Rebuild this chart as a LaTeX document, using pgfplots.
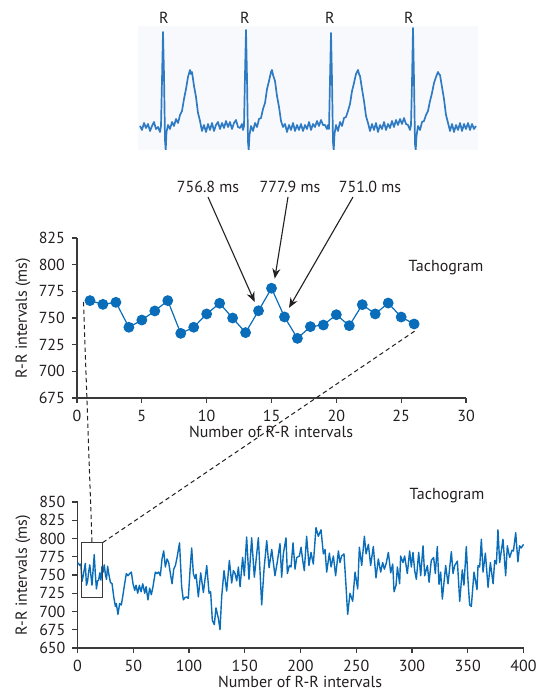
\documentclass[border=0pt]{standalone}
\usepackage{fontspec}
\setmainfont{PT Sans}
\usepackage{pgfplots}
\pgfplotsset{compat=1.18}
\usetikzlibrary{arrows.meta}
\definecolor{txt}{HTML}{231F20}
\definecolor{axc}{HTML}{3A3A3A}
\definecolor{dot}{HTML}{0A6DB9}
\definecolor{ecg}{HTML}{2E7BC4}
\definecolor{panel}{HTML}{F8F9FC}
\newcommand{\fs}{\fontsize{8}{9.6}\selectfont}

\pgfplotsset{
  tacho/.style={
    scale only axis, anchor=south west, clip=false,
    axis lines*=left, tick align=outside, major tick length=2.5pt,
    axis line style={line width=0.6pt, draw=axc},
    every tick/.style={line width=0.6pt, draw=axc},
    tick label style={font=\fs, text=txt},
    /pgf/number format/assume math mode=true,
  },
}

\begin{document}
\begin{tikzpicture}
\useasboundingbox (0,0) rectangle (269.5pt,-344.5pt);

% ECG strip
\begin{axis}[at={(69pt,-75pt)}, anchor=south west, scale only axis,
  width=170pt, height=62pt, xmin=138, xmax=478, ymin=0, ymax=124,
  axis line style={draw=none}, xtick=\empty, ytick=\empty,
  axis background/.style={fill=panel}]
\addplot[ecg, line width=0.85pt, line join=round] coordinates {
(140,24)(142,20)(144,27)(146,22)(148,26)(150,19)(152,24)(154,28)(156,21)
(158,23)(160,18)(161,24)(162,70)(163,118)(164,75)(165,10)(165.7,0)(166.5,18)(168,25)
(170,21)(172,28)(174,24)(176,31)(178,27)(180,35)(182,39)(184,51)(186,61)(188,73)
(190,80)(191,76)(192,78)(194,64)(196,53)(198,37)(200,29)(202,19)
(204,25)(206,18)(208,26)(210,20)(212,27)(214,19)(216,25)(218,28)(220,21)(222,27)
(224,22)(226,29)(228,23)(230,28)(232,21)(234,27)(236,30)(238,23)(240,22)(242,26)
(243,20)(244,24)(245,75)(246,120)(247,72)(248,8)(248.7,0)(249.5,15)(251,24)
(253,19)(255,27)(257,23)(259,31)(261,32)(263,41)(265,47)(267,61)(269,69)(271,78)
(272,80)(273,75)(275,69)(277,54)(279,43)(281,29)(283,23)(285,26)(287,18)(289,25)
(291,20)(293,27)(295,19)(297,25)(299,20)(301,26)(303,19)(305,25)(307,21)(309,28)
(311,20)(313,26)(315,23)(317,29)(319,24)(321,30)(323,25)(325,25)(327,21)(328,25)
(329,21)(330,70)(331,117)(332,70)(333,8)(333.7,0)(334.5,16)(336,25)(338,19)(340,28)
(342,24)(344,32)(346,33)(348,39)(350,46)(352,59)(354,67)(356,76)(358,80)(359,76)
(360,74)(362,61)(364,49)(366,34)(368,27)(370,19)(372,26)(374,20)(376,27)(378,18)
(380,25)(382,21)(384,28)(386,20)(388,26)(390,22)(392,29)(394,23)(396,30)(398,25)
(400,31)(402,26)(404,32)(406,26)(408,25)(410,20)(411,25)
(412,68)(413,122)(414,70)(415,6)(415.7,0)(416.5,14)(418,24)(420,20)(422,28)(424,29)
(426,35)(428,39)(430,49)(432,57)(434,67)(436,73)(438,78)(439,76)(440,75)(442,63)
(444,51)(446,35)(448,27)(450,19)(452,26)(454,18)(456,25)(458,20)(460,27)(462,19)
(464,26)(466,21)(468,27)(470,20)(472,26)(474,21)(476,24)
};
\end{axis}

% short tachogram
\begin{axis}[tacho, at={(38.5pt,-199pt)}, width=194.5pt, height=80pt,
  xmin=0, xmax=30, ymin=675, ymax=825,
  xtick={0,5,...,30}, ytick={675,700,...,825}]
\addplot[dot, line width=0.6pt, mark=*, mark size=2.4pt,
  mark options={fill=dot, draw=dot}] coordinates {
(1,766.3)(2,762.8)(3,764.7)(4,741.3)(5,748.1)(6,756.6)(7,766.3)(8,735.6)
(9,741.3)(10,753.8)(11,763.8)(12,750.0)(13,736.3)(14,756.8)(15,777.9)(16,751.0)
(17,730.9)(18,741.9)(19,743.4)(20,753.1)(21,742.8)(22,762.5)(23,753.8)(24,764.0)
(25,750.9)(26,744.4)
};
\coordinate (a1) at (axis cs:13.7,765);
\coordinate (a2) at (axis cs:15.25,787);
\coordinate (a3) at (axis cs:16.35,759.5);
\coordinate (d1) at (axis cs:0.5,765);
\coordinate (d2) at (axis cs:26.2,739);
\end{axis}

% long tachogram
\begin{axis}[tacho, at={(38.75pt,-324pt)}, width=223pt, height=73pt,
  xmin=0, xmax=400, ymin=650, ymax=850,
  xtick={0,50,...,400}, ytick={650,675,...,850}]
\addplot[dot, line width=0.7pt, line join=round] coordinates {
(0,765)(1,766)(2,763)(3,765)(4,741)(5,748)(6,757)(7,766)(8,736)(9,741)(10,754)
(11,764)(12,750)(13,736)(14,757)(15,778)(16,751)(17,731)(18,742)(19,743)(20,753)
(21,743)(22,762)(23,754)(24,764)(25,751)(26,744)
(27,762)(28,752)(29.5,740)(31,738)(32.5,720)(34,707)(34.8,711)(36.3,696)(37.8,711)
(39.3,709)(40.5,720)(42.3,738)(43.8,752)(45.3,749)(46.8,752)(48.3,754)(49.8,738)
(51.3,729)(52.5,736)(54,725)(55.5,736)(57,727)(58.5,738)(60.3,725)(61.5,734)
(63.2,716)(64.7,732)(66.2,723)(67.7,734)(69.8,754)(71.3,752)(72.8,754)(74.3,749)
(75.8,772)(77.3,783)(78.8,761)(80.3,772)(81.8,767)(83.3,752)(84.8,738)(86.3,758)
(87.8,763)(89.3,774)(91.5,794)
(93.4,734)(94.9,716)(96.4,719)(97.9,720)(99.4,718)(100.9,756)(102.4,787)(103.9,752)
(105.4,745)(106.3,751)(108.4,720)(110.5,753)(112.9,726)(115.9,763)(118,725)
(119.4,727)(120.9,688)(122.7,682)(124.2,705)(126.3,691)(127.8,675)(129.3,720)
(131.4,756)(133.8,728)(136.2,770)(138.3,739)(139.8,756)(141.3,752)(142.8,742)
(144.3,761)(145.8,734)(148.1,774)(149.6,749)(151.7,802)(153.8,744)(156.2,801)
(158.6,747)(162.2,801)(165.2,709)(167.3,758)(169.7,797)(171.8,760)(174.2,785)
(177.1,749)(179.2,768)(181.6,793)(183.1,747)(184.6,779)(187,801)(188.2,752)
(190,763)(191.5,761)(193.3,794)(195.1,758)(196.6,774)(199,776)(200.5,788)(202,770)
(203.4,756)(205.5,803)(207.6,763)(209.4,781)(211.5,765)(213.9,815)(216,803)
(218.4,812)(220.5,779)(222,785)(223.5,754)(225.9,780)(227.4,761)(229.5,776)
(231.5,749)(234,783)(235.4,767)(236.9,776)(239,779)(240.5,743)(242.3,696)
(244.4,725)(246.8,714)(248.9,754)(251.3,731)(252.8,788)(254.9,763)(257.3,803)
(258.8,779)(260.9,792)(262.9,763)(265.3,789)(267.7,746)(269.8,772)(271.9,754)
(273.7,767)(275.2,758)(276.7,765)(278.8,781)(280.9,753)(282.7,765)(283.9,727)
(285.7,736)(286.9,761)(288.9,738)(289.8,776)(291.9,767)(293.4,776)(295.8,752)
(297.9,783)(299.4,761)(300.9,781)(302.4,756)(303.9,744)(306,781)(307.8,749)
(309.9,790)(311.4,749)(313.8,763)(315.3,740)(317.3,770)(319.4,774)(320.9,752)
(322.7,789)(324.2,737)(325.7,754)(327.2,717)(330.2,763)(332.3,738)(335.3,782)
(336.8,752)(338.3,763)(340.7,769)(342.8,714)(345.1,757)(346.6,736)(348.7,789)
(350.2,743)(351.7,709)(353.2,707)(355.6,754)(358.3,730)(359.2,763)(360.7,761)
(362.2,799)(363.7,754)(365.8,780)(368.2,733)(370.3,767)(372.7,738)(374.2,770)
(375.7,765)(377.1,812)(378.6,767)(381.6,799)(384,749)(385.5,790)(387.6,774)
(389.7,784)(391,783)(393,808)(395,768)(396.5,790)(398,787)(400,792)
};
\draw[axc, line width=0.6pt] (axis cs:3.4,719.4) rectangle (axis cs:22.6,794.4);
\coordinate (b1) at (axis cs:13,794.4);
\coordinate (b2) at (axis cs:22.6,794.4);
\end{axis}

% labels and call-outs, placed in pixel units of the reference
\begin{scope}[x=0.5pt, y=-0.5pt, every node/.style={font=\fs, text=txt, inner sep=0.8pt}]
\node at (164,18) {R};
\node at (245,18) {R};
\node at (330,18) {R};
\node at (409,18) {R};
\node at (208,187) {756.8 ms};
\node at (290,187) {777.9 ms};
\node at (370,187) {751.0 ms};
\draw[txt, line width=0.55pt, -{Stealth[length=5pt,width=4pt]}] (208,197) -- (a1);
\draw[txt, line width=0.55pt, -{Stealth[length=5pt,width=4pt]}] (288,197) -- (a2);
\draw[txt, line width=0.55pt, -{Stealth[length=5pt,width=4pt]}] (353,197) -- (a3);
\node at (446,268) {Tachogram};
\node at (447,496) {Tachogram};
\node[rotate=90] at (23,318) {R-R intervals (ms)};
\node[rotate=90] at (23,575) {R-R intervals (ms)};
\node at (271,432) {Number of R-R intervals};
\node at (300,682) {Number of R-R intervals};
\end{scope}
\draw[txt, line width=0.5pt, dash pattern=on 2.2pt off 1.6pt] (d1) -- (b1);
\draw[txt, line width=0.5pt, dash pattern=on 2.2pt off 1.6pt] (b2) -- (d2);
\end{tikzpicture}
\end{document}
